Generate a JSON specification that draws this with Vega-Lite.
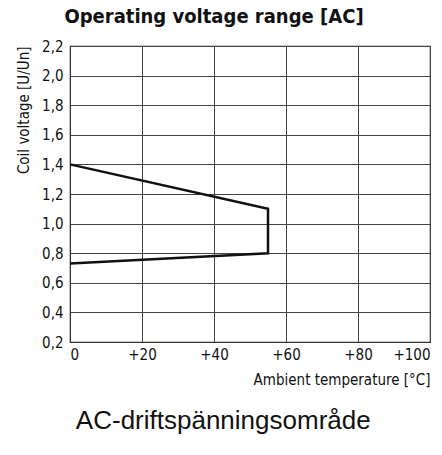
{
  "$schema": "https://vega.github.io/schema/vega-lite/v6.json",
  "background": "white",
  "padding": {"left": 15, "right": 5, "top": 6, "bottom": 5},
  "config": {
    "view": {"stroke": "#333", "strokeWidth": 1.2},
    "font": "DejaVu Sans Condensed, Roboto Condensed, Arial Narrow, sans-serif",
    "concat": {"spacing": 0}
  },
  "title": {
    "text": "AC-driftspänningsområde",
    "orient": "bottom",
    "font": "Liberation Sans",
    "fontSize": 26,
    "fontWeight": "normal",
    "color": "#111",
    "anchor": "middle",
    "offset": 20
  },
  "vconcat": [
    {
      "title": {
        "text": "Operating voltage range [AC]",
        "font": "DejaVu Sans Condensed, Roboto Condensed, Arial Narrow, sans-serif",
        "fontSize": 20,
        "fontWeight": "bold",
        "color": "#111",
        "anchor": "middle",
        "dx": -36,
        "offset": 12
      },
      "width": 360,
      "height": 296,
      "data": {
        "values": [
          {"temp": 0, "voltage": 1.4, "order": 1},
          {"temp": 55, "voltage": 1.1, "order": 2},
          {"temp": 55, "voltage": 0.8, "order": 3},
          {"temp": 0, "voltage": 0.73, "order": 4}
        ]
      },
      "mark": {"type": "line", "color": "#111", "strokeWidth": 2.5, "strokeJoin": "miter"},
      "encoding": {
        "x": {
          "field": "temp",
          "type": "quantitative",
          "scale": {"domain": [0, 100], "nice": false},
          "axis": {
            "values": [0, 20, 40, 60, 80, 100],
            "labelExpr": "datum.value == 0 ? '0' : '+' + datum.value",
            "labelFlush": true,
            "labelFontSize": 15,
            "labelColor": "#111",
            "labelPadding": 5,
            "ticks": false,
            "domainColor": "#333",
            "gridColor": "#444",
            "gridOpacity": 1,
            "title": "Ambient temperature [°C]",
            "titleAnchor": "end",
            "titleFontSize": 15,
            "titleFontWeight": "normal",
            "titleColor": "#111",
            "titlePadding": 10
          }
        },
        "y": {
          "field": "voltage",
          "type": "quantitative",
          "scale": {"domain": [0.2, 2.2], "nice": false, "zero": false},
          "axis": {
            "values": [0.2, 0.4, 0.6, 0.8, 1.0, 1.2, 1.4, 1.6, 1.8, 2.0, 2.2],
            "labelExpr": "replace(format(datum.value, '.1f'), '.', ',')",
            "labelFontSize": 15,
            "labelColor": "#111",
            "labelPadding": 7,
            "ticks": false,
            "domainColor": "#333",
            "gridColor": "#444",
            "gridOpacity": 1,
            "title": "Coil voltage [U/Un]",
            "titleAnchor": "end",
            "titleFontSize": 15,
            "titleFontWeight": "normal",
            "titleColor": "#111",
            "titlePadding": 10
          }
        },
        "order": {"field": "order", "type": "quantitative"}
      }
    }
  ]
}
